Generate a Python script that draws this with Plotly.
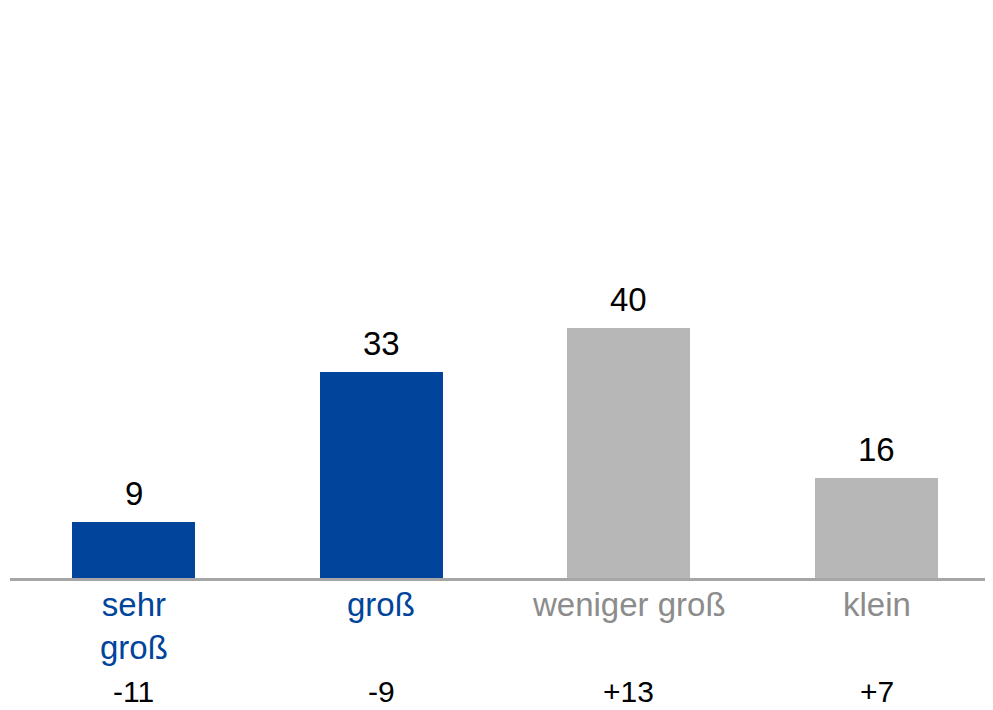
import plotly.graph_objects as go

categories = ["sehr<br>groß", "groß", "weniger groß", "klein"]
values = [9, 33, 40, 16]
changes = ["-11", "-9", "+13", "+7"]
bar_colors = ["#00459B", "#00459B", "#B7B7B7", "#B7B7B7"]
label_colors = ["#00459B", "#00459B", "#8C8C8C", "#8C8C8C"]

FONT = "Liberation Sans, Arial, sans-serif"
OFF = 8  # page body margin
W, H = 993 - OFF, 710 - OFF
ml, mr, mt, mb = 2, 0, 20, 132
plot_h = H - mt - mb
px_per_unit = 6.25
xs = list(range(len(categories)))

fig = go.Figure()
fig.add_trace(go.Bar(
    x=xs, y=values, width=0.497,
    marker=dict(color=bar_colors, line=dict(width=0)),
    hoverinfo="skip",
))

def py(page_pix):
    # convert page pixel y (from top of window) to paper coordinate
    return (H - mb - (page_pix - OFF)) / plot_h

annotations = []
for i, (c, col, ch, v) in enumerate(zip(categories, label_colors, changes, values)):
    annotations.append(dict(
        x=i, xref="x", y=v, yref="y", yanchor="bottom", xanchor="center",
        text=str(v), showarrow=False, yshift=8,
        font=dict(family=FONT, size=33, color="#000000"),
    ))
    annotations.append(dict(
        x=i, xref="x", y=py(584), yref="paper", yanchor="top", xanchor="center",
        text=c, showarrow=False,
        font=dict(family=FONT, size=33, color=col),
    ))
    annotations.append(dict(
        x=i, xref="x", y=py(691), yref="paper", yanchor="middle", xanchor="center",
        text=ch, showarrow=False, borderpad=0,
        font=dict(family=FONT, size=30, color="#000000"),
    ))

unit = 743 / 3
r0 = -123.5 / unit
r1 = r0 + (W - ml - mr) / unit

fig.update_layout(
    width=W, height=H,
    margin=dict(l=ml, r=mr, t=mt, b=mb),
    paper_bgcolor="white", plot_bgcolor="white",
    showlegend=False,
    xaxis=dict(range=[r0, r1], showticklabels=False, showgrid=False, zeroline=False,
               showline=True, linecolor="#A6A6A6", linewidth=3, ticks=""),
    yaxis=dict(range=[0, plot_h / px_per_unit], visible=False, showgrid=False, zeroline=False),
    annotations=annotations,
    bargap=0,
)

fig.write_html("out.html")
